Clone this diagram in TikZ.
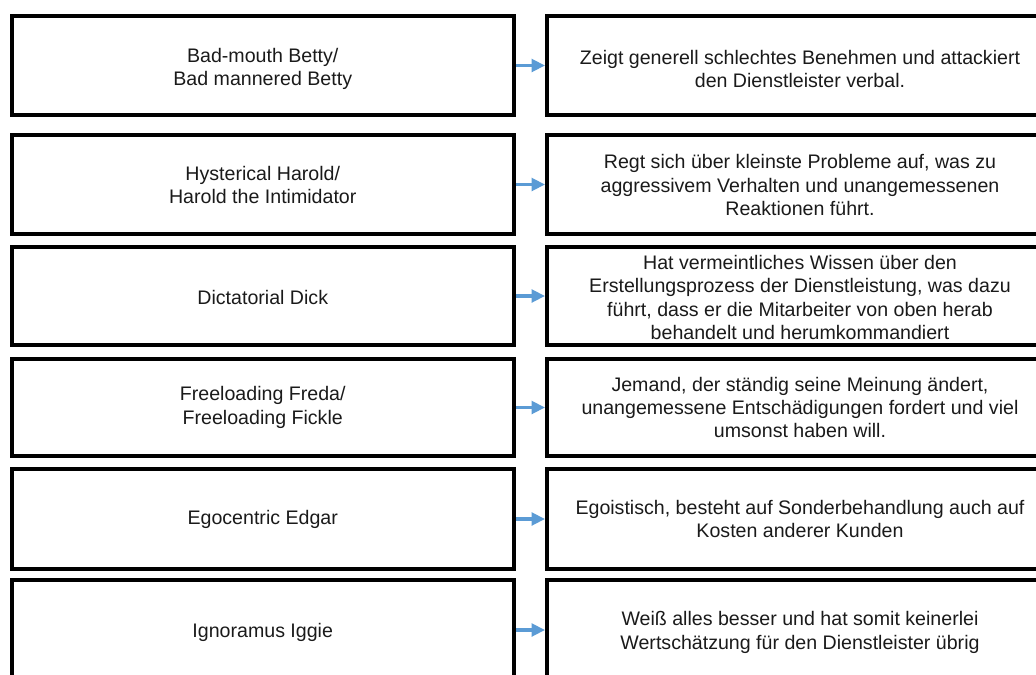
\documentclass[tikz,border=0pt]{standalone}
\usepackage{fontspec}
\setmainfont{Liberation Sans}
\usetikzlibrary{arrows.meta}
\definecolor{linkblue}{HTML}{5B9BD5}
\definecolor{txt}{HTML}{1A1A1A}
\tikzset{
  box/.style={draw=black, line width=3pt, rectangle, inner sep=0pt},
  namebox/.style={box, minimum width=502.5*0.75pt},
  descbox/.style={box, minimum width=506*0.75pt},
  boxtext/.style={align=center, text=txt, inner sep=0pt,
    font=\fontsize{14.7pt}{17.4pt}\selectfont},
  link/.style={draw=linkblue, line width=2.3pt, -{Triangle[length=10pt,width=9.5pt]}}
}
\begin{document}
\begin{tikzpicture}[x=0.75pt, y=-0.75pt]
\useasboundingbox (0,0) rectangle (1036,675);
\clip (0,0) rectangle (1036,675);
% rows: centre y, height, text offset
\foreach \n/\cy/\h/\dy/\name/\desc in {
  1/65.5/99/3.5/{Bad-mouth Betty/\\Bad mannered Betty}/{Zeigt generell schlechtes Benehmen und attackiert\\den Dienstleister verbal.},
  2/184.5/99/0.5/{Hysterical Harold/\\Harold the Intimidator}/{Regt sich über kleinste Probleme auf, was zu\\aggressivem Verhalten und unangemessenen\\Reaktionen führt.},
  3/296/98/1.5/{Dictatorial Dick}/{Hat vermeintliches Wissen über den\\Erstellungsprozess der Dienstleistung, was dazu\\führt, dass er die Mitarbeiter von oben herab\\behandelt und herumkommandiert},
  4/407.5/97/0/{Freeloading Freda/\\Freeloading Fickle}/{Jemand, der ständig seine Meinung ändert,\\unangemessene Entschädigungen fordert und viel\\umsonst haben will.},
  5/519/100/0/{Egocentric Edgar}/{Egoistisch, besteht auf Sonderbehandlung auch auf\\Kosten anderer Kunden},
  6/630/100/2.5/{Ignoramus Iggie}/{Weiß alles besser und hat somit keinerlei\\Wertschätzung für den Dienstleister übrig}} {
  \node[namebox, minimum height=\h*0.75pt] (l\n) at (262.75,\cy) {};
  \node[descbox, minimum height=\h*0.75pt] (r\n) at (800,\cy) {};
  \node[boxtext] (lt\n) at (262.75,\cy+\dy) {\name};
  \node[boxtext] (rt\n) at (800,\cy+\dy) {\desc};
  \draw[link] (l\n.east) -- (r\n.west);
}
\end{tikzpicture}
\end{document}
